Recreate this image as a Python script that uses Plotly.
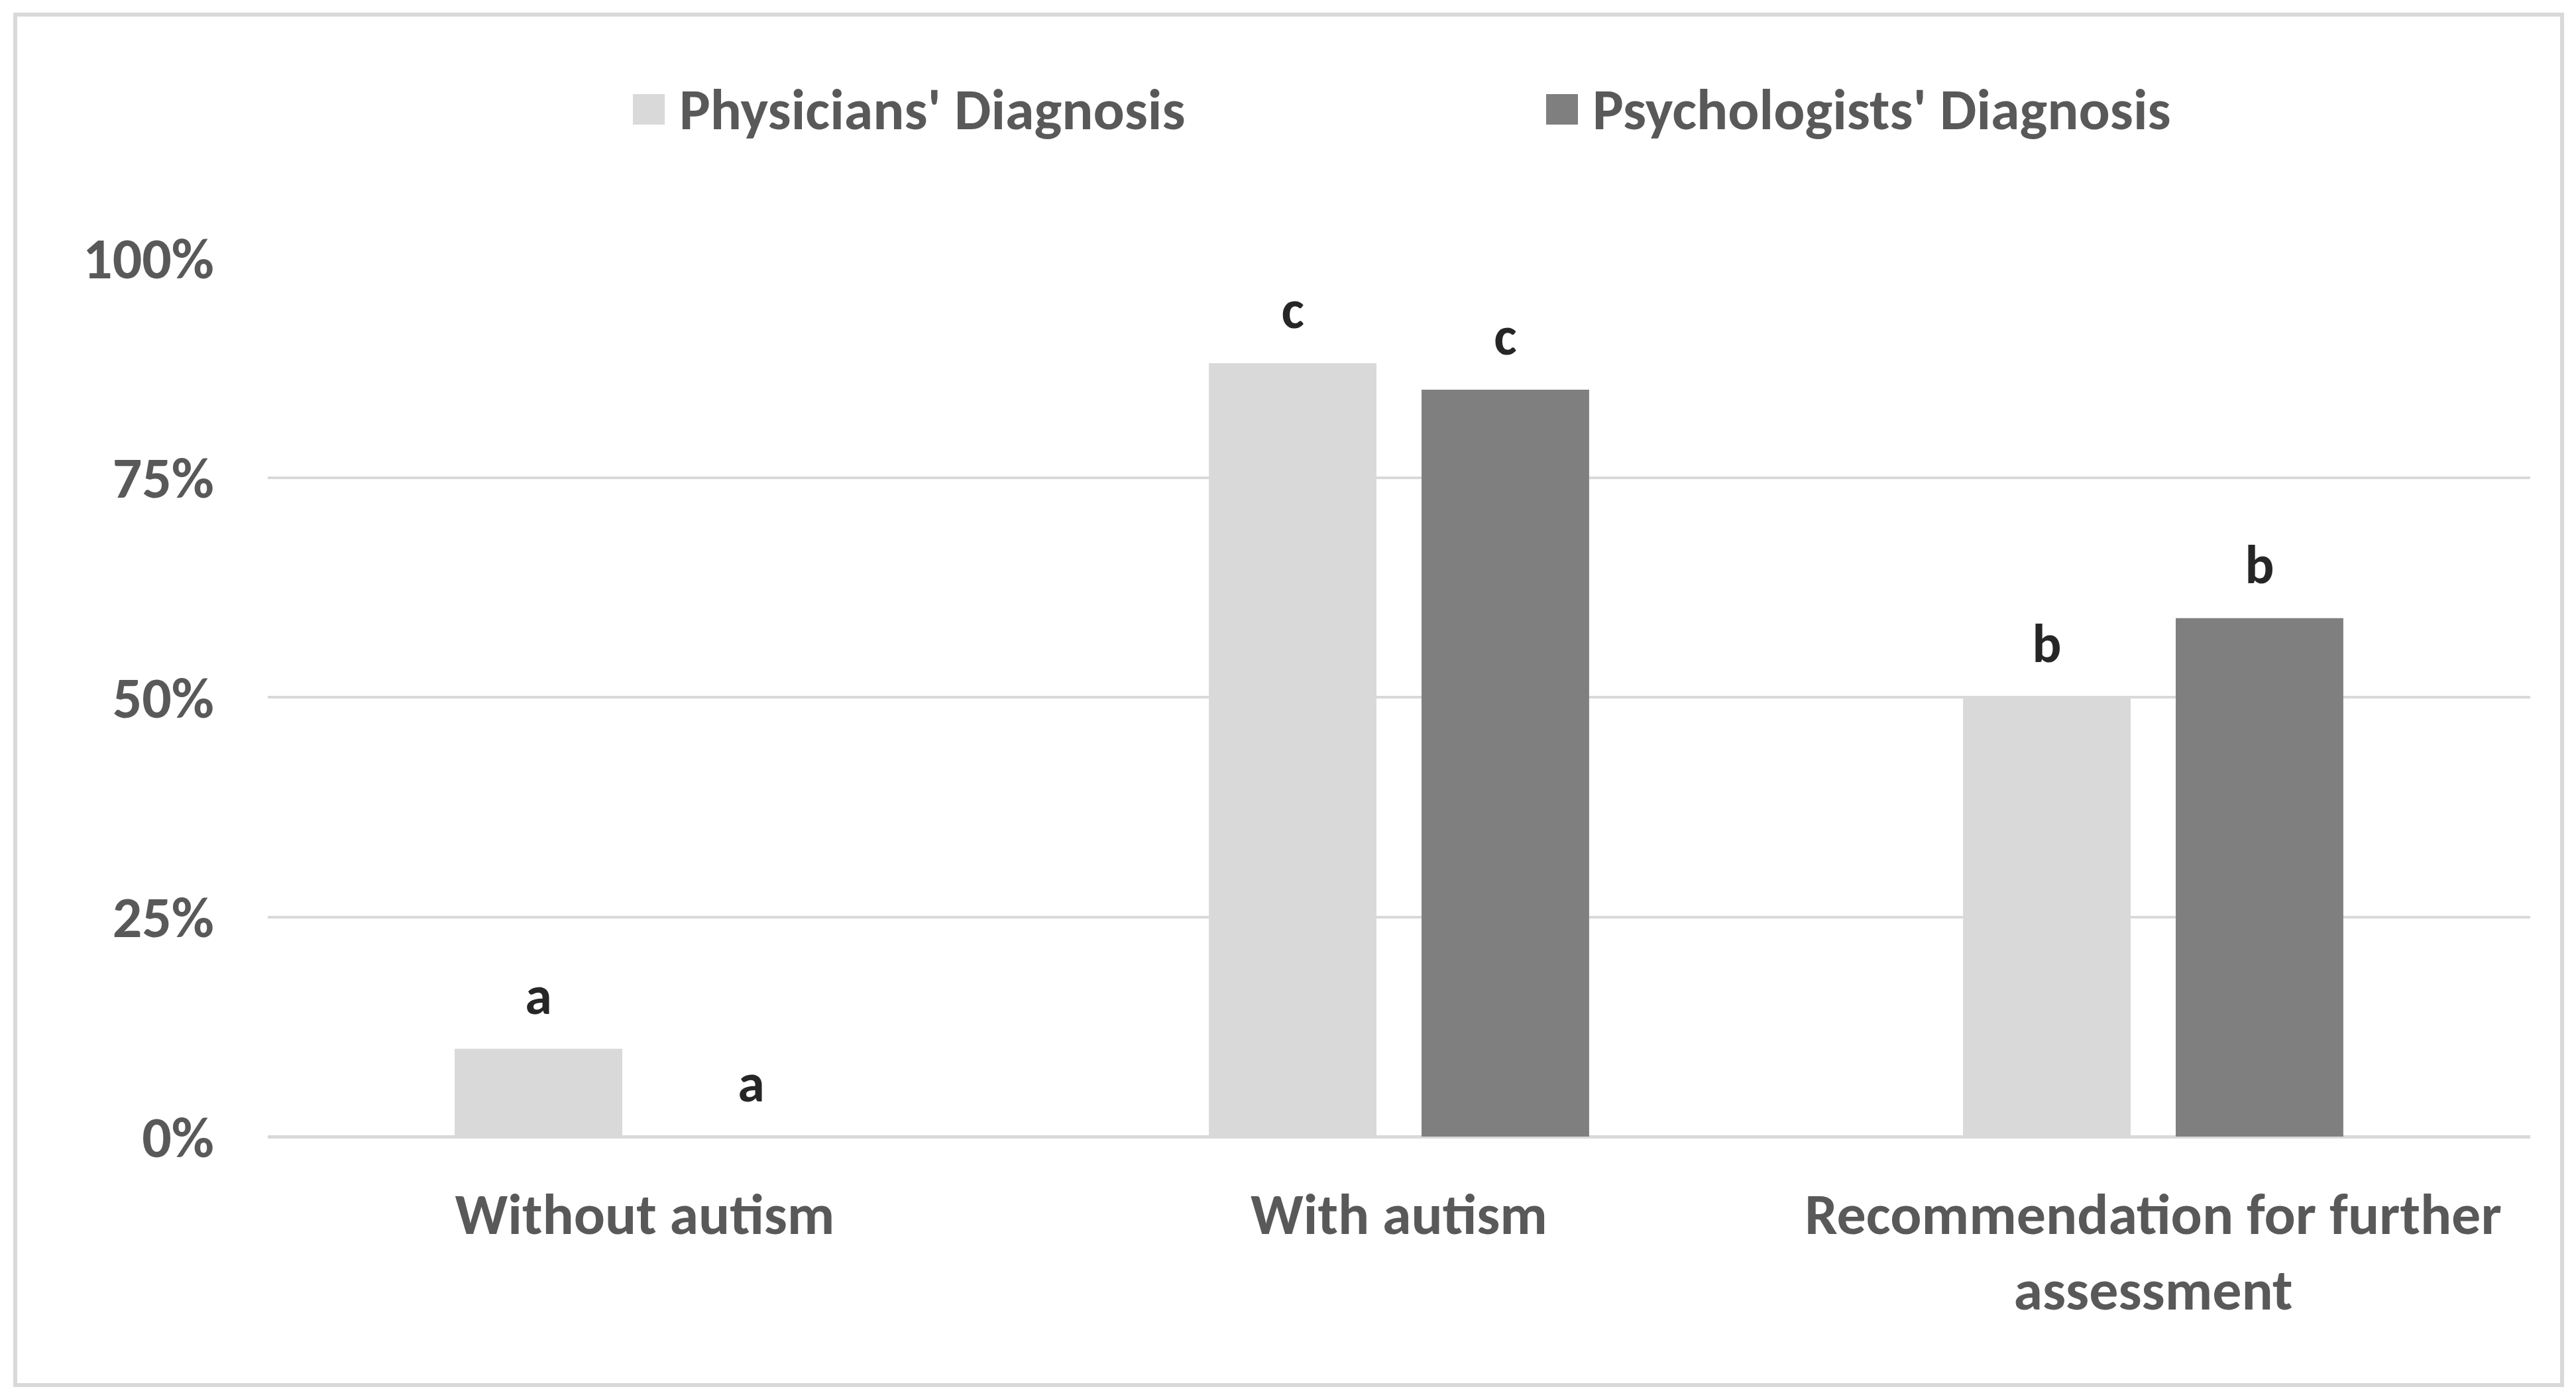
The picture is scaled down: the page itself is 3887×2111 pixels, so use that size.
import plotly.graph_objects as go

# ---------------- data ----------------
categories = ["Without autism", "With autism", "Recommendation for further<br>assessment"]
series_names = ["Physicians' Diagnosis", "Psychologists' Diagnosis"]
physicians = [0.10, 0.88, 0.50]
psychologists = [0.00, 0.85, 0.59]
physicians_letters = ["a", "c", "b"]
psychologists_letters = ["a", "c", "b"]
y_ticks = [0, 0.25, 0.5, 0.75, 1.0]
y_tick_labels = ["0%", "25%", "50%", "75%", "100%"]

# ---------------- style ----------------
W, H = 3887, 2111
PL, PR, PT, PB = 404, 3818, 389, 1715   # plot area in pixels
colors = ["#d9d9d9", "#7f7f7f"]
FONT = "Carlito, Calibri, Lato, sans-serif"
AXIS_TXT = "#595959"
LETTER_TXT = "#262626"
FS = 88
BARGAP = 0.436


def px_x(px):
    return (px - PL) / (PR - PL)


def px_y(py):
    return (PB - py) / (PB - PT)


fig = go.Figure()
for name, vals, col in zip(series_names, [physicians, psychologists], colors):
    fig.add_trace(go.Bar(x=categories, y=vals, name=name, marker=dict(color=col, line=dict(width=0)),
                         showlegend=False, hoverinfo="skip"))
for name, vals, letters in zip(series_names, [physicians, psychologists],
                               [physicians_letters, psychologists_letters]):
    fig.add_trace(go.Scatter(x=categories, y=vals, mode="markers+text", text=letters,
                             textposition="top center",
                             marker=dict(size=50, opacity=0),
                             textfont=dict(family=FONT, size=FS - 6, color=LETTER_TXT, weight="bold"),
                             showlegend=False, hoverinfo="skip", cliponaxis=False, name=name))

shapes = [dict(type="rect", xref="paper", yref="paper",
               x0=px_x(23), x1=px_x(3866), y0=px_y(2090), y1=px_y(22),
               line=dict(color="#d9d9d9", width=6), fillcolor="rgba(0,0,0,0)", layer="below")]
annotations = []
legend_sq_x = [955, 2333]
legend_y = 165
for name, col, sx in zip(series_names, colors, legend_sq_x):
    shapes.append(dict(type="rect", xref="paper", yref="paper",
                       x0=px_x(sx), x1=px_x(sx + 48), y0=px_y(legend_y + 23), y1=px_y(legend_y - 23),
                       line=dict(width=0), fillcolor=col))
    annotations.append(dict(xref="paper", yref="paper", x=px_x(sx + 68), y=px_y(legend_y),
                            xanchor="left", yanchor="middle", showarrow=False, text=name,
                            font=dict(family=FONT, size=FS, color=AXIS_TXT, weight="bold")))

fig.update_layout(
    width=W, height=H,
    margin=dict(l=PL, r=W - PR, t=PT, b=H - PB),
    paper_bgcolor="white", plot_bgcolor="white",
    barmode="group", bargap=BARGAP, bargroupgap=0.212,
    scattermode="group", scattergap=BARGAP,
    font=dict(family=FONT, size=FS, color=AXIS_TXT, weight="bold"),
    shapes=shapes, annotations=annotations,
    showlegend=False,
)
fig.update_xaxes(type="category", showgrid=False, showline=False, zeroline=False, ticks="",
                 tickfont=dict(family=FONT, size=FS, color=AXIS_TXT, weight="bold"),
                 ticklabelstandoff=58)
fig.update_yaxes(range=[0, 1], tickvals=y_ticks, ticktext=y_tick_labels,
                 showgrid=True, gridcolor="#d9d9d9", gridwidth=4,
                 zeroline=True, zerolinecolor="#d9d9d9", zerolinewidth=5,
                 showline=False, ticks="",
                 tickfont=dict(family=FONT, size=FS, color=AXIS_TXT, weight="bold"),
                 ticklabelstandoff=80)

fig.write_html("out.html", config={"displayModeBar": False},
               post_script="document.body.style.margin='0';document.body.style.padding='0';")
